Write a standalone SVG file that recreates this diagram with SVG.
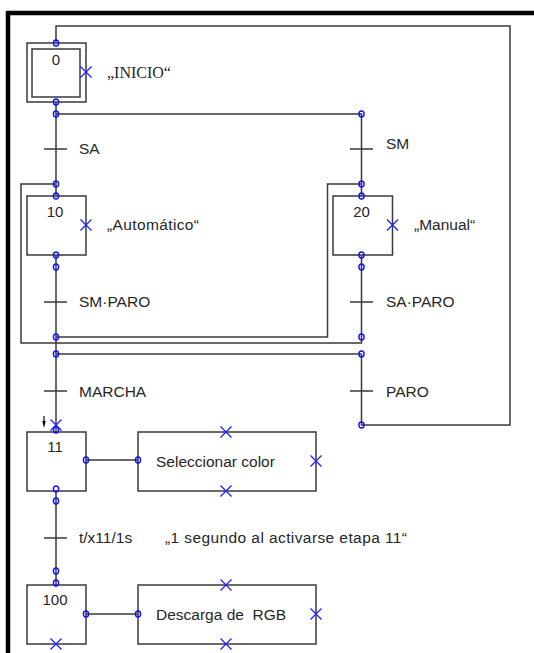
<svg xmlns="http://www.w3.org/2000/svg" width="534" height="653" viewBox="0 0 534 653">
<style>
.ln{fill:none;stroke:#3a3a3a;stroke-width:1.5}
.bx{fill:#fff;stroke:#3a3a3a;stroke-width:1.5}
.c{fill:none;stroke:#1010ff;stroke-width:1.4}
.x{stroke:#2020ff;stroke-width:1.3;fill:none}
.t{font-family:"Liberation Sans",Arial,sans-serif;font-size:15.5px;fill:#262626}
.n{font-family:"Liberation Sans",Arial,sans-serif;font-size:15px;fill:#262626;text-anchor:middle}
.s{font-family:"Liberation Serif","Times New Roman",serif;font-size:16px;fill:#262626}
</style>
<defs>
<ellipse id="o" rx="2.6" ry="3" class="c"/>
<path id="k" d="M-5.5,-5.5 L5.5,5.5 M-5.5,5.5 L5.5,-5.5" class="x"/>
</defs>
<rect width="534" height="653" fill="#fff"/>
<path d="M8,653 V13 H534" fill="none" stroke="#000" stroke-width="4.5"/>
<g id="connectors">
<path class="ln" d="M361.5,354 V425 H510 V26 H56 V43"/>
<path class="ln" d="M56,102 V196"/>
<path class="ln" d="M56,114 H361.5 V196"/>
<path class="ln" d="M44,149 H67 M350,149 H373"/>
<path class="ln" d="M361.5,255 V343 H21 V184 H56"/>
<path class="ln" d="M56,255 V432"/>
<path class="ln" d="M56,337 H327.5 V184 H361.5"/>
<path class="ln" d="M56,354 H361.5"/>
<path class="ln" d="M44,302 H67 M350,302 H373"/>
<path class="ln" d="M44,391 H67 M350,391 H373"/>
<path class="ln" d="M56,491 V585"/>
<path class="ln" d="M44,538 H67"/>
<path class="ln" d="M86,460 H138 M86,614 H138"/>
<path d="M44,416 V423" stroke="#000" stroke-width="1.2"/>
<polygon points="44,428 42.3,421 45.7,421" fill="#000"/>
</g>
<g id="step0">
<rect class="bx" x="27" y="43" width="59" height="59"/>
<rect class="bx" x="32" y="49" width="48" height="48"/>
<text class="n" x="56" y="65">0</text>
<use href="#k" x="86" y="72"/>
<text class="s" x="107" y="78">„INICIO“</text>
</g>
<g id="step10">
<rect class="bx" x="27" y="196" width="59" height="59"/>
<text class="n" x="55" y="217">10</text>
<use href="#k" x="86" y="225"/>
<text class="t" x="107" y="230" textLength="92" lengthAdjust="spacing">„Automático“</text>
</g>
<g id="step20">
<rect class="bx" x="333" y="196" width="59.5" height="59"/>
<text class="n" x="361.5" y="217">20</text>
<use href="#k" x="392.5" y="225"/>
<text class="t" x="414" y="230">„Manual“</text>
</g>
<g id="transitions">
<text class="t" x="79" y="154">SA</text>
<text class="t" x="386" y="148.5">SM</text>
<text class="t" x="79" y="307">SM·PARO</text>
<text class="t" x="386" y="307">SA·PARO</text>
<text class="t" x="79" y="396.5">MARCHA</text>
<text class="t" x="386" y="396.5">PARO</text>
<text class="t" x="79" y="543">t/x11/1s</text>
<text class="t" x="165" y="543" textLength="242" lengthAdjust="spacing">„1 segundo al activarse etapa 11“</text>
</g>
<g id="step11">
<rect class="bx" x="27" y="432" width="59" height="59"/>
<text class="n" x="55" y="452">11</text>
<use href="#k" x="56" y="425"/>
</g>
<g id="action11">
<rect class="bx" x="138" y="432" width="178" height="59"/>
<text class="t" x="156" y="466.5">Seleccionar color</text>
<use href="#k" x="226" y="432"/>
<use href="#k" x="226" y="491"/>
<use href="#k" x="316" y="461"/>
</g>
<g id="step100">
<rect class="bx" x="27" y="585" width="59" height="59"/>
<text class="n" x="55" y="604.5">100</text>
<use href="#k" x="56" y="644"/>
</g>
<g id="action100">
<rect class="bx" x="138" y="585" width="178" height="59"/>
<text class="t" x="156" y="620" xml:space="preserve">Descarga de  RGB</text>
<use href="#k" x="226" y="585"/>
<use href="#k" x="226" y="644"/>
<use href="#k" x="316" y="614"/>
</g>
<g id="ports">
<use href="#o" x="56" y="43"/><use href="#o" x="56" y="102"/><use href="#o" x="56" y="114"/><use href="#o" x="361.5" y="114"/>
<use href="#o" x="56" y="184"/><use href="#o" x="56" y="196"/><use href="#o" x="361.5" y="184"/><use href="#o" x="361.5" y="196"/>
<use href="#o" x="56" y="255"/><use href="#o" x="56" y="267"/><use href="#o" x="361.5" y="255"/><use href="#o" x="361.5" y="267"/>
<use href="#o" x="56" y="337"/><use href="#o" x="361.5" y="337"/><use href="#o" x="56" y="354"/><use href="#o" x="361.5" y="354"/>
<use href="#o" x="56" y="430"/><use href="#o" x="56" y="489"/><use href="#o" x="56" y="501"/><use href="#o" x="86" y="460"/><use href="#o" x="138" y="460"/>
<use href="#o" x="56" y="571"/><use href="#o" x="56" y="583"/><use href="#o" x="86" y="614"/><use href="#o" x="138" y="614"/><use href="#o" x="361.5" y="425"/>
</g>
</svg>
